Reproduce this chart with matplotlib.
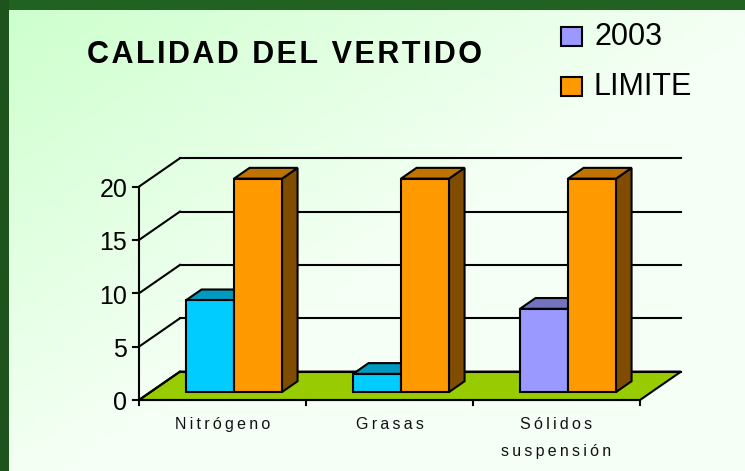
import numpy as np
import matplotlib.pyplot as plt
from matplotlib.patches import Polygon, Rectangle

# data
categories = ["Nitrógeno", "Grasas", "Sólidos\nsuspensión"]
series_names = ["2003", "LIMITE"]
vals_2003 = [8.6, 1.7, 7.8]
vals_limite = [20, 20, 20]
colors_2003 = ["#00CCFF", "#00CCFF", "#9999FF"]
yticks = [0, 5, 10, 15, 20]

W, H = 745, 471
fig = plt.figure(figsize=(W / 100, H / 100), dpi=100)

# background gradient + dark green frame
bg = fig.add_axes([0, 0, 1, 1])
bg.set_xlim(0, W)
bg.set_ylim(H, 0)
bg.axis("off")
xx, yy = np.meshgrid(np.linspace(0, 1, 200), np.linspace(0, 1, 130))
t = np.clip((xx + yy) / 1.1, 0, 1)[..., None]
c0 = np.array([0.80, 1.0, 0.80])
c1 = np.array([0.965, 1.0, 0.965])
bg.imshow(c0 * (1 - t) + c1 * t, extent=[0, W, H, 0], aspect="auto")
bg.add_patch(Rectangle((0, 0), W, 10, color="#216121", lw=0))
bg.add_patch(Rectangle((0, 0), 9, H, color="#1E531E", lw=0))

# chart axes: front plane 0..3 categories, 0..20 values
px_per_cat = 167.0
px_per_val = 10.67
x0_px, y0_px = 139.0, 400.0
ax = fig.add_axes([0, 0, 1, 1])
ax.set_xlim(-x0_px / px_per_cat, (W - x0_px) / px_per_cat)
ax.set_ylim((y0_px - H) / px_per_val, y0_px / px_per_val)
ax.axis("off")
ax.patch.set_alpha(0)

DX = 41 / px_per_cat      # depth offset (full depth)
DY = 28.4 / px_per_val
n = len(categories)
lw = 1.5

# floor
ax.add_patch(Polygon([(0, 0), (n, 0), (n + DX, DY), (DX, DY)], closed=True,
                     facecolor="#99CC00", edgecolor="black", lw=lw, zorder=1))
# back wall gridlines and left wall lines
for v in yticks:
    ax.plot([DX, n + DX], [v + DY, v + DY], color="black", lw=lw, zorder=2)
    ax.plot([0, DX], [v, v + DY], color="black", lw=lw, zorder=2)
    ax.plot([-0.036, 0], [v, v], color="black", lw=lw, zorder=2)
    ax.text(-0.07, v - 0.3, str(v), ha="right", va="center", fontsize=18,
            family="Liberation Sans")
ax.plot([0, 0], [0, 20], color="black", lw=lw, zorder=2)
ax.plot([0, n], [0, 0], color="black", lw=lw, zorder=2)
for i in range(n + 1):
    ax.plot([i, i], [0, -0.5], color="black", lw=lw, zorder=2)


def shade(c, k):
    c = np.array([int(c[j:j + 2], 16) for j in (1, 3, 5)]) / 255.0
    return tuple(c * k)


def bar3d(xa, xb, h, color):
    f1, f2 = 0.28, 0.66
    a, ay = f1 * DX, f1 * DY
    b, by = f2 * DX, f2 * DY
    kw = dict(closed=True, edgecolor="black", lw=lw, zorder=3, joinstyle="miter")
    ax.add_patch(Polygon([(xb + a, ay), (xb + b, by), (xb + b, h + by), (xb + a, h + ay)],
                         facecolor=shade(color, 0.5), **kw))
    ax.add_patch(Polygon([(xa + a, h + ay), (xb + a, h + ay), (xb + b, h + by), (xa + b, h + by)],
                         facecolor=shade(color, 0.75), **kw))
    ax.add_patch(Polygon([(xa + a, ay), (xb + a, ay), (xb + a, h + ay), (xa + a, h + ay)],
                         facecolor=color, **kw))


bw = 48 / px_per_cat
for i in range(n):
    c = i + 0.5
    bar3d(c - bw, c, vals_2003[i], colors_2003[i])
    bar3d(c, c + bw, vals_limite[i], "#FF9900")

# category labels (letter-spaced)
for i, lab in enumerate(categories):
    for j, line in enumerate(lab.split("\n")):
        ax.text(i + 0.5, -2.25 - j * 2.55, "\u2009".join(line), ha="center", va="center",
                fontsize=11.5, family=["Liberation Sans", "DejaVu Sans"], color="#111111")

# title
fig.text(87 / W, 1 - 55 / H, "\u200a".join("CALIDAD DEL VERTIDO"), ha="left", va="center",
         fontsize=22, fontweight="bold", family=["Liberation Sans", "DejaVu Sans"])

# legend
leg_colors = ["#9999FF", "#FF9900"]
for k, name in enumerate(series_names):
    yc = 36 + k * 50
    bg.add_patch(Rectangle((561, yc - 9.5), 21, 19, facecolor=leg_colors[k],
                           edgecolor="black", lw=1.5))
    bg.text(594, yc + 1, name, ha="left", va="center", fontsize=22,
            family="Liberation Sans")

fig.savefig("out.png", dpi=100)
